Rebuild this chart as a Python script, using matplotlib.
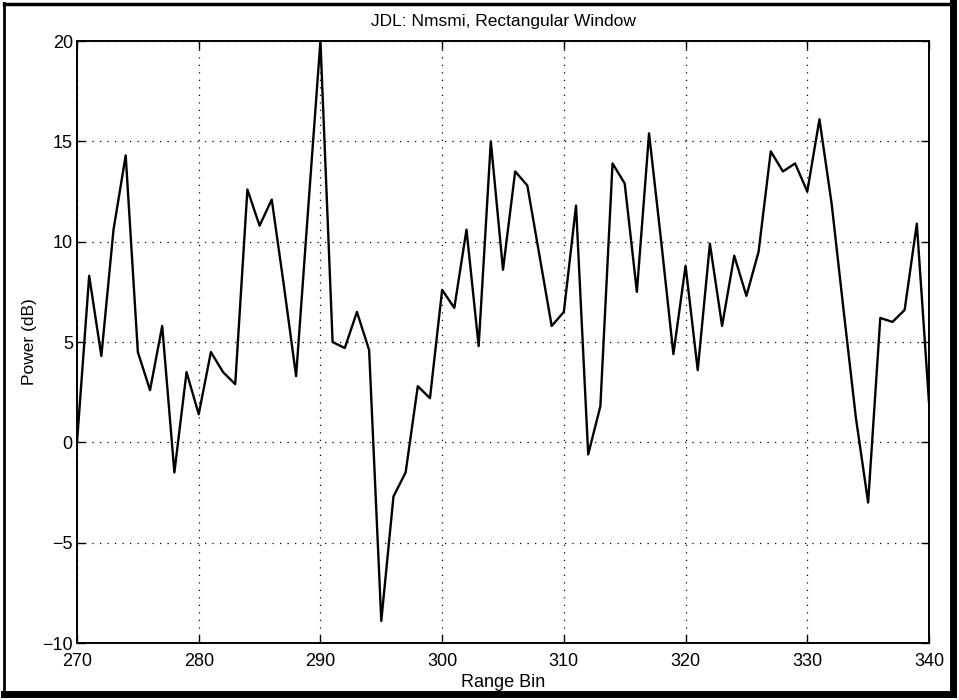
import matplotlib.pyplot as plt
import numpy as np
from matplotlib.lines import Line2D

plt.rcParams['font.family'] = ['Liberation Sans', 'DejaVu Sans']

range_bin = np.arange(270, 341)
power_db = [
    0.0, 8.3, 4.3, 10.6, 14.3, 4.5, 2.6, 5.8, -1.5, 3.5,      # 270-279
    1.4, 4.5, 3.5, 2.9, 12.6, 10.8, 12.1, 7.8, 3.3, 11.7,     # 280-289
    20.0, 5.0, 4.7, 6.5, 4.6, -8.9, -2.7, -1.5, 2.8, 2.2,     # 290-299
    7.6, 6.7, 10.6, 4.8, 15.0, 8.6, 13.5, 12.8, 9.3, 5.8,     # 300-309
    6.5, 11.8, -0.6, 1.8, 13.9, 12.9, 7.5, 15.4, 10.0, 4.4,   # 310-319
    8.8, 3.6, 9.9, 5.8, 9.3, 7.3, 9.5, 14.5, 13.5, 13.9,      # 320-329
    12.5, 16.1, 11.9, 6.5, 1.2, -3.0, 6.2, 6.0, 6.6, 10.9,    # 330-339
    2.0,                                                      # 340
]
xticks = [270, 280, 290, 300, 310, 320, 330, 340]
yticks = [-10, -5, 0, 5, 10, 15, 20]

fig = plt.figure(figsize=(9.59, 7.0), dpi=100)
ax = fig.add_axes([0.0803, 0.0814, 0.8884, 0.86])

ax.plot(range_bin, power_db, color="black", linewidth=1.7)

ax.set_xlim(270, 340)
ax.set_ylim(-10, 20)
ax.set_xticks(xticks)
ax.set_yticks(yticks)
ax.set_yticklabels(["\u221210", "\u22125", "0", "5", "10", "15", "20"])
ax.grid(True, linestyle=(0, (1, 5)), color="black", linewidth=0.9)
ax.tick_params(direction="in", length=6, width=1, top=True, right=True,
               labelsize=13)
ax.tick_params(axis="x", pad=7)
ax.tick_params(axis="y", pad=3)
for s in ax.spines.values():
    s.set_linewidth(1.4)

ax.set_title("JDL: Nmsmi, Rectangular Window", fontsize=12.5, pad=11)
ax.set_xlabel("Range Bin", fontsize=13, labelpad=3)
ax.set_ylabel("Power (dB)", fontsize=12.5, labelpad=4)

# scanned page frame around the figure
fig.add_artist(Line2D([0.004, 0.004], [0.008, 0.996], color="black", linewidth=2.0))
fig.add_artist(Line2D([0.004, 0.994], [0.995, 0.995], color="black", linewidth=2.5))
fig.add_artist(Line2D([0.994, 0.994], [0.008, 0.996], color="black", linewidth=5.0))
fig.add_artist(Line2D([0.004, 0.994], [0.009, 0.009], color="black", linewidth=5.0))

fig.savefig("out.png", dpi=100)
